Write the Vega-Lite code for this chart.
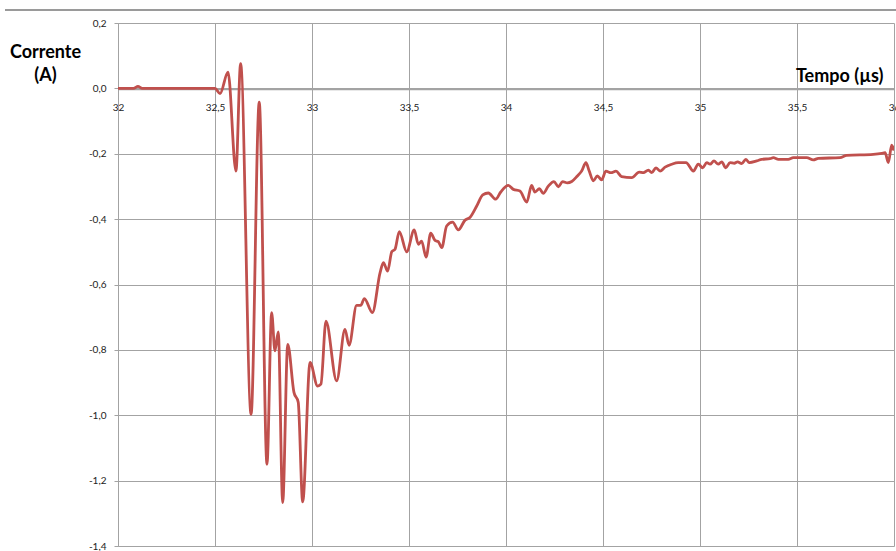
{
  "$schema": "https://vega.github.io/schema/vega-lite/v6.json",
  "width": 776,
  "height": 523,
  "autosize": {"type": "none"},
  "padding": {"left": 118, "top": 23, "right": 2, "bottom": 5},
  "background": "white",
  "config": {
    "locale": {"number": {"decimal": ",", "thousands": ".", "grouping": [3], "currency": ["", " €"], "minus": "-"}},
    "view": {"stroke": null},
    "font": "Lato"
  },
  "data": {"values": [
    {"t": 32.0, "i": 0}, {"t": 32.08, "i": 0}, {"t": 32.103, "i": 0.006}, {"t": 32.125, "i": 0},
    {"t": 32.5, "i": 0}, {"t": 32.526, "i": -0.016}, {"t": 32.567, "i": 0.05}, {"t": 32.608, "i": -0.253},
    {"t": 32.632, "i": 0.076}, {"t": 32.686, "i": -0.997}, {"t": 32.728, "i": -0.042}, {"t": 32.768, "i": -1.15},
    {"t": 32.792, "i": -0.686}, {"t": 32.809, "i": -0.803}, {"t": 32.826, "i": -0.745}, {"t": 32.849, "i": -1.267},
    {"t": 32.875, "i": -0.783}, {"t": 32.907, "i": -0.93}, {"t": 32.929, "i": -0.96}, {"t": 32.952, "i": -1.265},
    {"t": 32.99, "i": -0.838}, {"t": 33.029, "i": -0.911}, {"t": 33.046, "i": -0.905}, {"t": 33.072, "i": -0.712},
    {"t": 33.127, "i": -0.895}, {"t": 33.17, "i": -0.737}, {"t": 33.191, "i": -0.786}, {"t": 33.23, "i": -0.664},
    {"t": 33.251, "i": -0.664}, {"t": 33.27, "i": -0.643}, {"t": 33.311, "i": -0.686}, {"t": 33.351, "i": -0.564},
    {"t": 33.368, "i": -0.533}, {"t": 33.39, "i": -0.559}, {"t": 33.411, "i": -0.5}, {"t": 33.428, "i": -0.492},
    {"t": 33.45, "i": -0.438}, {"t": 33.488, "i": -0.5}, {"t": 33.527, "i": -0.433}, {"t": 33.548, "i": -0.477},
    {"t": 33.565, "i": -0.467}, {"t": 33.588, "i": -0.516}, {"t": 33.612, "i": -0.443}, {"t": 33.634, "i": -0.465},
    {"t": 33.651, "i": -0.469}, {"t": 33.669, "i": -0.487}, {"t": 33.694, "i": -0.421}, {"t": 33.725, "i": -0.409},
    {"t": 33.754, "i": -0.433}, {"t": 33.789, "i": -0.403}, {"t": 33.814, "i": -0.395}, {"t": 33.849, "i": -0.36},
    {"t": 33.88, "i": -0.326}, {"t": 33.909, "i": -0.32}, {"t": 33.947, "i": -0.339}, {"t": 33.973, "i": -0.317},
    {"t": 34.012, "i": -0.297}, {"t": 34.038, "i": -0.309}, {"t": 34.072, "i": -0.314}, {"t": 34.107, "i": -0.348},
    {"t": 34.132, "i": -0.297}, {"t": 34.149, "i": -0.317}, {"t": 34.172, "i": -0.307}, {"t": 34.192, "i": -0.321},
    {"t": 34.218, "i": -0.299}, {"t": 34.247, "i": -0.285}, {"t": 34.27, "i": -0.301}, {"t": 34.292, "i": -0.285},
    {"t": 34.316, "i": -0.289}, {"t": 34.339, "i": -0.285}, {"t": 34.368, "i": -0.268}, {"t": 34.39, "i": -0.253},
    {"t": 34.412, "i": -0.227}, {"t": 34.429, "i": -0.253}, {"t": 34.45, "i": -0.283}, {"t": 34.471, "i": -0.268},
    {"t": 34.493, "i": -0.28}, {"t": 34.515, "i": -0.253}, {"t": 34.541, "i": -0.258}, {"t": 34.567, "i": -0.253},
    {"t": 34.596, "i": -0.27}, {"t": 34.648, "i": -0.273}, {"t": 34.687, "i": -0.256}, {"t": 34.708, "i": -0.258},
    {"t": 34.734, "i": -0.25}, {"t": 34.751, "i": -0.258}, {"t": 34.773, "i": -0.243}, {"t": 34.794, "i": -0.253},
    {"t": 34.82, "i": -0.241}, {"t": 34.854, "i": -0.232}, {"t": 34.888, "i": -0.227}, {"t": 34.928, "i": -0.227},
    {"t": 34.966, "i": -0.253}, {"t": 34.991, "i": -0.232}, {"t": 35.014, "i": -0.243}, {"t": 35.035, "i": -0.227},
    {"t": 35.052, "i": -0.232}, {"t": 35.072, "i": -0.222}, {"t": 35.094, "i": -0.232}, {"t": 35.112, "i": -0.225},
    {"t": 35.133, "i": -0.243}, {"t": 35.155, "i": -0.227}, {"t": 35.177, "i": -0.229}, {"t": 35.194, "i": -0.225},
    {"t": 35.215, "i": -0.23}, {"t": 35.236, "i": -0.217}, {"t": 35.254, "i": -0.227}, {"t": 35.292, "i": -0.222},
    {"t": 35.318, "i": -0.217}, {"t": 35.361, "i": -0.215}, {"t": 35.378, "i": -0.212}, {"t": 35.404, "i": -0.217},
    {"t": 35.455, "i": -0.217}, {"t": 35.481, "i": -0.212}, {"t": 35.55, "i": -0.212}, {"t": 35.584, "i": -0.219},
    {"t": 35.61, "i": -0.214}, {"t": 35.722, "i": -0.212}, {"t": 35.756, "i": -0.205}, {"t": 35.893, "i": -0.202},
    {"t": 35.937, "i": -0.199}, {"t": 35.954, "i": -0.197}, {"t": 35.971, "i": -0.227}, {"t": 35.988, "i": -0.174},
    {"t": 36.0, "i": -0.19}
  ]},
  "layer": [
    {
      "mark": {"type": "rule", "color": "#9a9a9a", "strokeWidth": 1, "clip": false},
      "encoding": {
        "x": {"datum": 31.42, "type": "quantitative"},
        "x2": {"datum": 36.02},
        "y": {"datum": 0.24, "type": "quantitative"}
      }
    },
    {
      "mark": {"type": "line", "color": "#C0504D", "strokeWidth": 2.8, "interpolate": "monotone", "clip": true},
      "encoding": {
        "x": {
          "field": "t", "type": "quantitative",
          "scale": {"domain": [32, 36], "nice": false, "zero": false},
          "axis": {
            "orient": "bottom", "offset": -457,
            "values": [32, 32.5, 33, 33.5, 34, 34.5, 35, 35.5, 36],
            "format": ".1~f",
            "grid": true, "gridColor": "#a3a3a3", "gridWidth": 1,
            "domain": true, "domainColor": "#a3a3a3", "domainWidth": 1.5,
            "ticks": false, "labelPadding": 13,
            "labelFont": "Lato", "labelFontSize": 10, "labelColor": "#222",
            "labelFlush": false,
            "title": "Tempo (µs)", "titleFont": "Lato", "titleFontSize": 18, "titleFontWeight": "bold",
            "titleColor": "#000", "titleAlign": "right", "titleAnchor": null, "titleX": 765, "titleY": -8,
            "titleBaseline": "alphabetic"
          }
        },
        "y": {
          "field": "i", "type": "quantitative",
          "scale": {"domain": [-1.4, 0.2], "nice": false, "zero": false},
          "axis": {
            "values": [-1.4, -1.2, -1.0, -0.8, -0.6, -0.4, -0.2, 0, 0.2],
            "format": ".1f",
            "grid": true, "gridColor": "#a3a3a3", "gridWidth": 1,
            "domain": true, "domainColor": "#a3a3a3",
            "ticks": true, "tickSize": 4, "tickColor": "#a3a3a3",
            "labelPadding": 8, "labelFont": "Lato", "labelFontSize": 10, "labelColor": "#222",
            "labelFlush": false,
            "title": ["Corrente", "(A)"], "titleFont": "Lato", "titleFontSize": 18, "titleFontWeight": "bold",
            "titleColor": "#000", "titleAngle": 0, "titleAlign": "center", "titleAnchor": null,
            "titleX": -73, "titleY": 34, "titleBaseline": "alphabetic", "titleLineHeight": 23
          }
        }
      }
    }
  ]
}
